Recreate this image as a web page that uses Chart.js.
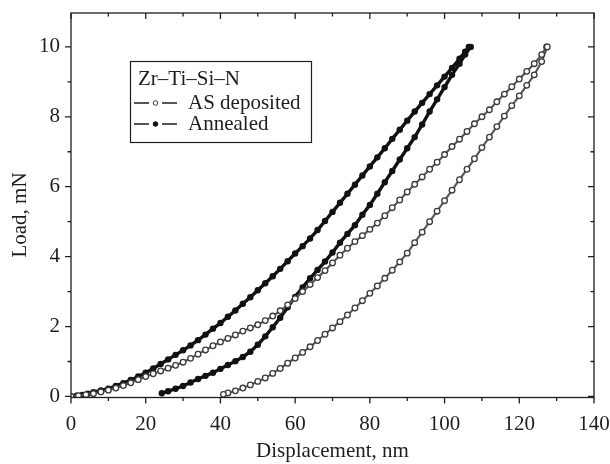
<!DOCTYPE html>
<html>
<head>
<meta charset="utf-8">
<script src="https://cdn.jsdelivr.net/npm/chart.js@4/dist/chart.umd.min.js"></script>
<style>
  html, body { margin: 0; background: #fff; }
</style>
</head>
<body>
<canvas id="chart" width="610" height="464"></canvas>
<script>
// Load–displacement readings, [displacement nm, load mN]
const asLoading = [
  [0,0],[2,0.02],[4,0.05],[6,0.08],[8,0.13],[10,0.18],[12,0.24],[14,0.31],[16,0.39],[18,0.48],
  [20,0.57],[22,0.65],[24,0.73],[26,0.81],[28,0.89],[30,0.98],[32,1.09],[34,1.21],[36,1.33],[38,1.45],
  [40,1.56],[42,1.66],[44,1.76],[46,1.87],[48,1.96],[50,2.05],[52,2.17],[54,2.3],[56,2.45],[58,2.62],
  [60,2.8],[62,3.0],[64,3.2],[66,3.4],[68,3.6],[70,3.82],[72,4.04],[74,4.24],[76,4.43],[78,4.6],
  [80,4.78],[82,4.96],[84,5.17],[86,5.4],[88,5.62],[90,5.85],[92,6.07],[94,6.28],[96,6.5],[98,6.7],
  [100,6.92],[102,7.15],[104,7.36],[106,7.58],[108,7.8],[110,8.0],[112,8.2],[114,8.43],[116,8.65],[118,8.86],
  [120,9.08],[122,9.3],[124,9.52],[126,9.78],[127.3,10.0]
];
const asUnloading = [
  [127.5,10.0],[126,9.58],[124,9.2],[122,8.9],[120,8.6],[118,8.32],[116,8.02],[114,7.72],[112,7.42],[110,7.12],
  [108,6.8],[106,6.5],[104,6.2],[102,5.9],[100,5.6],[98,5.3],[96,5.0],[94,4.7],[92,4.4],[90,4.1],
  [88,3.85],[86,3.61],[84,3.38],[82,3.16],[80,2.95],[78,2.74],[76,2.53],[74,2.33],[72,2.14],[70,1.96],
  [68,1.78],[66,1.6],[64,1.42],[62,1.26],[60,1.1],[58,0.95],[56,0.8],[54,0.66],[52,0.53],[50,0.43],
  [48,0.33],[46,0.24],[44,0.16],[42,0.1],[40.8,0.06]
];
const annLoading = [
  [0,0],[1.5,0.02],[3,0.04],[4.5,0.08],[6,0.12],[8,0.17],[10,0.22],[12,0.3],[14,0.38],[16,0.47],
  [18,0.57],[20,0.68],[22,0.8],[24,0.93],[26,1.06],[28,1.19],[30,1.32],[32,1.46],[34,1.61],[36,1.77],
  [38,1.94],[40,2.1],[42,2.28],[44,2.46],[46,2.65],[48,2.84],[50,3.04],[52,3.24],[54,3.44],[56,3.65],
  [58,3.87],[60,4.09],[62,4.3],[64,4.52],[66,4.76],[68,5.02],[70,5.28],[72,5.54],[74,5.8],[76,6.06],
  [78,6.32],[80,6.58],[82,6.84],[84,7.1],[86,7.37],[88,7.63],[90,7.89],[92,8.15],[94,8.4],[96,8.65],
  [98,8.9],[100,9.15],[102,9.4],[104,9.66],[105.5,9.86],[106.5,10.0]
];
const annUnloading = [
  [107,10.0],[105.5,9.78],[104,9.52],[102,9.2],[100,8.85],[98,8.5],[96,8.15],[94,7.78],[92,7.42],[90,7.1],
  [88,6.78],[86,6.45],[84,6.13],[82,5.8],[80,5.48],[78,5.2],[76,4.9],[74,4.65],[72,4.4],[70,4.12],
  [68,3.86],[66,3.62],[64,3.38],[62,3.12],[60,2.85],[58,2.55],[56,2.25],[54,1.98],[52,1.72],[50,1.48],
  [48,1.28],[46,1.13],[44,1.01],[42,0.9],[40,0.79],[38,0.68],[36,0.59],[34,0.5],[32,0.4],[30,0.3],
  [28,0.22],[26,0.15],[24.3,0.09]
];

const seriesLabels = ["AS deposited", "Annealed"];
const legendTitle = "Zr–Ti–Si–N";
const xTicks = [0, 20, 40, 60, 80, 100, 120, 140];
const yTicks = [0, 2, 4, 6, 8, 10];
const yTitle = "Load, mN";

const FONT = '"Liberation Serif", "Times New Roman", serif';
const INK = "#1e1e1e";

const toPts = arr => arr.map(([x, y]) => ({ x, y }));

// Minor/major tick marks on all four sides plus the closed frame
const frameTicks = {
  id: "frameTicks",
  afterDraw(chart) {
    const { ctx, chartArea: a, scales: { x, y } } = chart;
    ctx.save();
    ctx.strokeStyle = INK;
    ctx.lineWidth = 1.3;
    ctx.strokeRect(a.left, a.top, a.right - a.left, a.bottom - a.top);
    ctx.beginPath();
    for (let v = 0; v <= 140; v += 10) {
      const px = x.getPixelForValue(v);
      const len = v % 20 === 0 ? 6 : 3.5;
      ctx.moveTo(px, a.bottom); ctx.lineTo(px, a.bottom + len);
      ctx.moveTo(px, a.top);    ctx.lineTo(px, a.top + len);
    }
    for (let v = 0; v <= 10; v += 1) {
      const py = y.getPixelForValue(v);
      const len = v % 2 === 0 ? 6 : 3.5;
      ctx.moveTo(a.left - len, py); ctx.lineTo(a.left, py);
      ctx.moveTo(a.right, py);      ctx.lineTo(a.right - len, py);
    }
    ctx.stroke();

    // y title sits a little below the plot centre in the original
    ctx.translate(20, 215);
    ctx.rotate(-Math.PI / 2);
    ctx.font = "21px " + FONT;
    ctx.fillStyle = INK;
    ctx.textAlign = "center";
    ctx.textBaseline = "middle";
    ctx.fillText(yTitle, 0, 0);
    ctx.restore();
  }
};

// Boxed legend with title, drawn inside the plot
const legendBox = {
  id: "legendBox",
  afterDraw(chart) {
    const ctx = chart.ctx;
    ctx.save();
    ctx.strokeStyle = INK;
    ctx.lineWidth = 1.2;
    ctx.strokeRect(130.5, 61.5, 181, 81);
    ctx.font = "21px " + FONT;
    ctx.fillStyle = INK;
    ctx.textBaseline = "middle";
    ctx.fillText(legendTitle, 138, 79);
    chart.data.datasets.forEach((ds, i) => {
      const cy = 103 + i * 21;
      ctx.strokeStyle = INK;
      ctx.lineWidth = 1.6;
      ctx.beginPath();
      ctx.moveTo(134, cy); ctx.lineTo(149, cy);
      ctx.moveTo(162, cy); ctx.lineTo(177, cy);
      ctx.stroke();
      ctx.beginPath();
      ctx.arc(155.5, cy, 2.3, 0, Math.PI * 2);
      ctx.fillStyle = ds.pointBackgroundColor;
      ctx.fill();
      ctx.lineWidth = 1;
      ctx.strokeStyle = ds.pointBorderColor;
      ctx.stroke();
      ctx.fillStyle = INK;
      ctx.fillText(ds.label, 188, cy);
    });
    ctx.restore();
  }
};

new Chart(document.getElementById("chart"), {
  type: "scatter",
  data: {
    datasets: [
      {
        label: seriesLabels[0],
        data: toPts(asLoading.concat(asUnloading)),
        showLine: true,
        borderColor: "#5a5a5a",
        borderWidth: 2.2,
        pointRadius: 2.8,
        pointBackgroundColor: "#fff",
        pointBorderColor: "#3a3a3a",
        pointBorderWidth: 1.3
      },
      {
        label: seriesLabels[1],
        data: toPts(annLoading.concat(annUnloading)),
        showLine: true,
        borderColor: "#111",
        borderWidth: 3.4,
        pointRadius: 3.2,
        pointBackgroundColor: "#111",
        pointBorderColor: "#111",
        pointBorderWidth: 0
      }
    ]
  },
  options: {
    responsive: false,
    animation: false,
    devicePixelRatio: 1,
    layout: { padding: { top: 13, right: 16, left: 0, bottom: 0 } },
    plugins: { legend: { display: false }, tooltip: { enabled: false } },
    scales: {
      x: {
        type: "linear",
        min: 0, max: 140,
        afterBuildTicks: s => { s.ticks = xTicks.map(v => ({ value: v })); },
        afterFit: s => { s.height = 66.5; s.paddingLeft = 0; s.paddingRight = 0; },
        grid: { display: false, drawTicks: false },
        border: { display: false },
        ticks: { color: INK, font: { family: FONT, size: 21 }, padding: 14, maxRotation: 0 },
        title: { display: true, text: "Displacement, nm", color: INK, font: { family: FONT, size: 21 }, padding: { top: 4, bottom: 0 } }
      },
      y: {
        type: "linear",
        min: -0.03, max: 10.97,
        afterBuildTicks: s => { s.ticks = yTicks.map(v => ({ value: v })); },
        afterFit: s => { s.width = 71; s.paddingTop = 0; s.paddingBottom = 0; },
        grid: { display: false, drawTicks: false },
        border: { display: false },
        ticks: { color: INK, font: { family: FONT, size: 21 }, padding: 11 },
        title: { display: false }
      }
    }
  },
  plugins: [frameTicks, legendBox]
});
</script>
</body>
</html>
